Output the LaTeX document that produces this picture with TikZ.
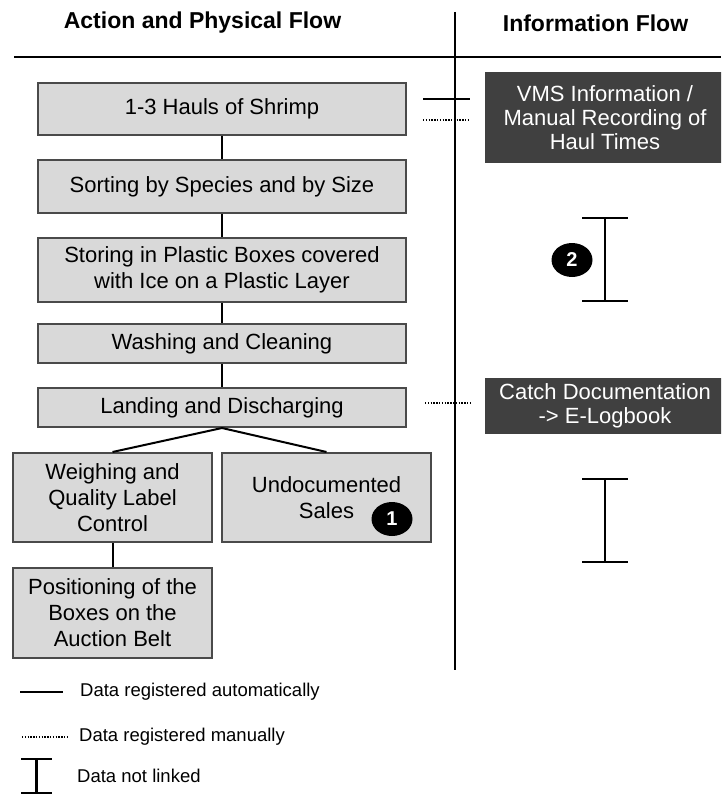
\documentclass[tikz,border=0pt]{standalone}
\usepackage{fontspec}
\setmainfont{Liberation Sans}
\usetikzlibrary{shapes.geometric}
\definecolor{boxfill}{HTML}{D9D9D9}
\definecolor{boxline}{HTML}{4A4A4A}
\definecolor{infofill}{HTML}{404040}
\tikzset{
  flowbox/.style={draw=boxline, fill=boxfill, line width=2pt, inner sep=0pt,
    align=center, font=\fontsize{22}{26}\selectfont},
  infobox/.style={fill=infofill, inner sep=0pt, text=white,
    align=center, font=\fontsize{22}{24}\selectfont},
  heading/.style={font=\fontsize{23}{26}\selectfont\bfseries, inner sep=0pt},
  link/.style={line width=2pt},
  auto line/.style={line width=2pt},
  manual line/.style={line width=2pt, dash pattern=on 1.3pt off 1.5pt},
  nolink/.style={line width=2.4pt},
  marker/.style={ellipse, fill=black, text=white, minimum width=41pt,
    minimum height=34pt, inner sep=0pt, font=\fontsize{20}{20}\selectfont\bfseries},
  legendtext/.style={anchor=west, inner sep=0pt,
    font=\fontsize{18.5}{22}\selectfont},
}
\begin{document}
\begin{tikzpicture}[x=1pt, y=-1pt]
  \useasboundingbox (0,0) rectangle (721,794);

  % column headings and dividers
  \node[heading] (hA) at (202.5,23) {Action and Physical Flow};
  \node[heading] (hI) at (595.5,23) {Information Flow};
  \draw[line width=2.4pt] (14,57) -- (721,57);
  \draw[line width=2.4pt] (455,12) -- (455,670);

  % physical flow
  \node[flowbox, minimum width=368pt, minimum height=52pt] (b1) at (222,109) {1-3 Hauls of Shrimp};
  \node[flowbox, minimum width=368pt, minimum height=53pt] (b2) at (222,186.5) {Sorting by Species and by Size};
  \node[flowbox, minimum width=368pt, minimum height=64pt] (b3) at (222,270) {Storing in Plastic Boxes covered\\with Ice on a Plastic Layer};
  \node[flowbox, minimum width=368pt, minimum height=39pt] (b4) at (222,343.5) {Washing and Cleaning};
  \node[flowbox, minimum width=368pt, minimum height=39pt] (b5) at (222,407.5) {Landing and Discharging};
  \node[flowbox, minimum width=199pt, minimum height=89pt] (b6) at (112.5,497.5) {Weighing and\\Quality Label\\Control};
  \node[flowbox, minimum width=209pt, minimum height=89pt] (b7) at (326.5,497.5) {Undocumented\\Sales};
  \node[flowbox, minimum width=199pt, minimum height=90pt] (b8) at (112.5,613) {Positioning of the\\Boxes on the\\Auction Belt};

  \draw[link] (b1.south) -- (b2.north);
  \draw[link] (b2.south) -- (b3.north);
  \draw[link] (b3.south) -- (b4.north);
  \draw[link] (b4.south) -- (b5.north);
  \draw[link] (b5.south) -- (b6.north);
  \draw[link] (b5.south) -- (b7.north);
  \draw[link] (b6.south) -- (b8.north);

  \node[marker] (m1) at (392,519) {1};

  % information flow
  \begin{scope}
    \clip (0,0) rectangle (721,794);
    \node[infobox, minimum width=240pt, minimum height=91pt] (vms) at (605,117.5) {VMS Information /\\Manual Recording of\\Haul Times};
    \node[infobox, minimum width=240pt, minimum height=56pt] (catch) at (605,406) {Catch Documentation\\-> E-Logbook};
  \end{scope}

  \coordinate (va1) at (423,99);  \coordinate (va2) at (470,99);
  \coordinate (vm1) at (423,120); \coordinate (vm2) at (470,120);
  \coordinate (cm1) at (425,403); \coordinate (cm2) at (472,403);
  \draw[auto line] (va1) -- (va2);
  \draw[manual line] (vm1) -- (vm2);
  \draw[manual line] (cm1) -- (cm2);

  % data not linked
  \draw[nolink] (582,218) -- (628,218) (605,218) -- (605,301) (582,301) -- (628,301);
  \draw[nolink] (582,479) -- (628,479) (605,479) -- (605,562) (582,562) -- (628,562);
  \node[marker] (m2) at (572,260) {2};

  % legend
  \draw[auto line] (20,692) -- (63,692);
  \node[legendtext] (l1) at (80,692) {Data registered automatically};
  \draw[manual line] (22,737) -- (68,737);
  \node[legendtext] (l2) at (79,737) {Data registered manually};
  \draw[nolink] (21,759) -- (52,759) (36.5,759) -- (36.5,794) (21,793) -- (52,793);
  \node[legendtext] (l3) at (77,776) {Data not linked};
\end{tikzpicture}
\end{document}
